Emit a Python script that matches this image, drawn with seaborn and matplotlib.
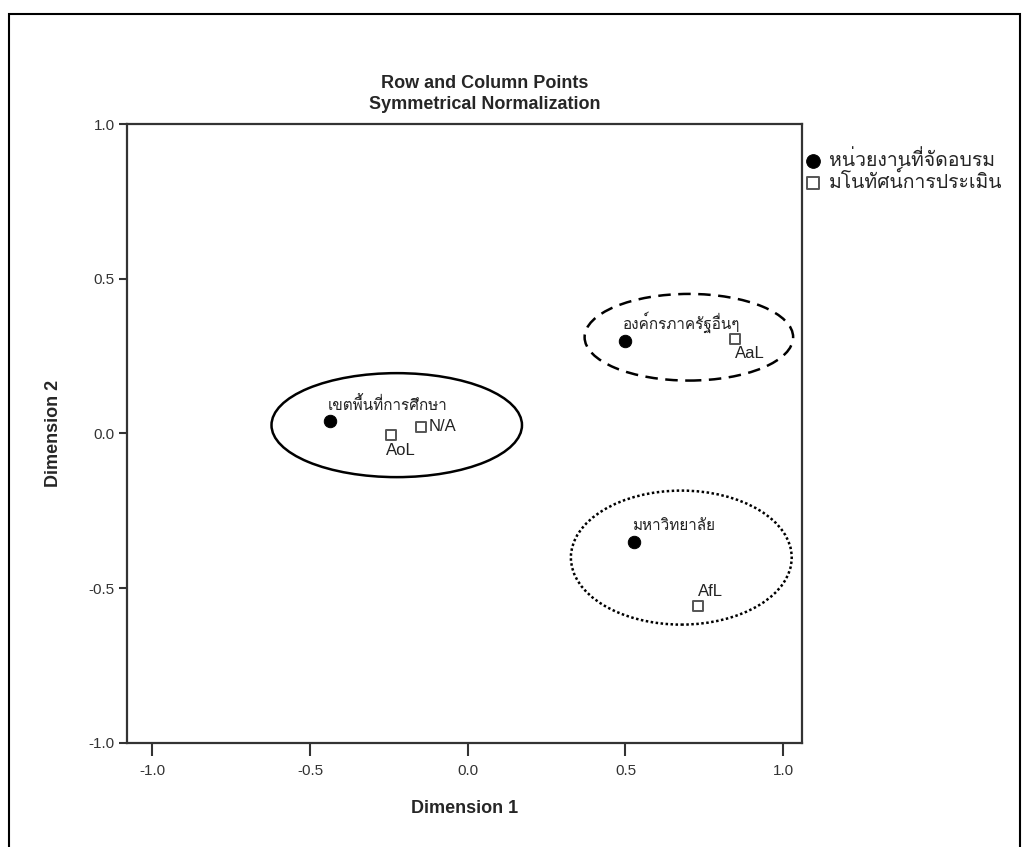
import matplotlib
matplotlib.use("Agg")
import matplotlib.pyplot as plt
import seaborn as sns
import pandas as pd
from matplotlib import font_manager
from matplotlib.ft2font import FT2Font
from matplotlib.patches import Ellipse, Rectangle

# dados
row_labels = ["เขตพื้นที่การศึกษา", "องค์กรภาครัฐอื่นๆ", "มหาวิทยาลัย"]
row_dim1 = [-0.437, 0.497, 0.528]
row_dim2 = [0.040, 0.300, -0.352]

col_labels = ["AoL", "N/A", "AaL", "AfL"]
col_dim1 = [-0.244, -0.149, 0.847, 0.729]
col_dim2 = [-0.005, 0.022, 0.305, -0.557]

legend_labels = ["หน่วยงานที่จัดอบรม", "มโนทัศน์การประเมิน"]
ticks = [-1.0, -0.5, 0.0, 0.5, 1.0]

# grupos desenhados a mao (centro x, centro y, largura, altura, estilo)
groups = [(-0.225, 0.027, 0.794, 0.336, "solid"),
          (0.701, 0.311, 0.661, 0.280, (0, (5, 3))),
          (0.677, -0.401, 0.700, 0.433, (0, (1, 1)))]

# posicao dos rotulos (pixels, alinhamento, tamanho)
offsets = {"เขตพื้นที่การศึกษา": (-2, 8, "left", "bottom", 11),
           "องค์กรภาครัฐอื่นๆ": (-2, 8, "left", "bottom", 11),
           "มหาวิทยาลัย": (-2, 9, "left", "bottom", 11),
           "AoL": (-5, -8, "left", "top", 12),
           "N/A": (8, 0, "left", "center", 12),
           "AaL": (0, -7, "left", "top", 12),
           "AfL": (0, 7, "left", "bottom", 12)}

df_row = pd.DataFrame({"d1": row_dim1, "d2": row_dim2, "lab": row_labels})
df_col = pd.DataFrame({"d1": col_dim1, "d2": col_dim2, "lab": col_labels})

sns.set_style("white")

# procurar uma fonte com glifos tailandeses
thai = []
for f in font_manager.fontManager.ttflist:
    try:
        if 0x0E01 in FT2Font(f.fname).get_charmap() and f.name not in thai:
            thai.append(f.name)
    except Exception:
        pass
plt.rcParams["font.family"] = ["Liberation Sans"] + thai + ["DejaVu Sans"]

fig = plt.figure(figsize=(10.26, 8.47), dpi=100)
ax = fig.add_axes([0.1238, 0.1228, 0.658, 0.7308])

for cx, cy, w, h, ls in groups:
    ax.add_patch(Ellipse((cx, cy), w, h, fill=False, ec="black", lw=1.8, ls=ls))

sns.scatterplot(data=df_row, x="d1", y="d2", ax=ax, marker="o", s=80,
                color="black", edgecolor="black", label=legend_labels[0], zorder=3)
sns.scatterplot(data=df_col, x="d1", y="d2", ax=ax, marker="s", s=60,
                facecolor="white", edgecolor="#555555", linewidth=1.4,
                label=legend_labels[1], zorder=3)

for df in (df_row, df_col):
    for _, r in df.iterrows():
        dx, dy, ha, va, fs = offsets[r["lab"]]
        ax.annotate(r["lab"], (r["d1"], r["d2"]), xytext=(dx, dy),
                    textcoords="offset pixels", ha=ha, va=va, fontsize=fs,
                    color="#222222")

ax.set_xlim(-1.08, 1.06)
ax.set_ylim(-1.0, 1.0)
ax.set_xticks(ticks)
ax.set_yticks(ticks)
ax.set_xticklabels([f"{t:.1f}" for t in ticks])
ax.set_yticklabels([f"{t:.1f}" for t in ticks])
ax.tick_params(axis="x", direction="out", length=9, width=1.5, pad=6,
               labelsize=11, colors="#333333", bottom=True)
ax.tick_params(axis="y", direction="out", length=6, width=1.5, pad=3,
               labelsize=11, colors="#333333", left=True)
for sp in ax.spines.values():
    sp.set_color("#333333")
    sp.set_linewidth(1.6)

ax.set_xlabel("Dimension 1", fontsize=13, fontweight="bold", labelpad=16)
ax.set_ylabel("Dimension 2", fontsize=13, fontweight="bold", labelpad=19)

fig.text(0.472, 0.902, "Row and Column Points", ha="center", va="center",
         fontsize=13, fontweight="bold")
fig.text(0.472, 0.877, "Symmetrical Normalization", ha="center", va="center",
         fontsize=13, fontweight="bold")

ax.legend(loc="upper left", bbox_to_anchor=(0.775, 0.832),
          bbox_transform=fig.transFigure, frameon=False, fontsize=14,
          handletextpad=0.35, borderaxespad=0, labelspacing=0.05,
          handlelength=1.0, markerscale=1.1)

# moldura externa
fig.patches.append(Rectangle((0.0088, -0.01), 0.985, 0.9935, transform=fig.transFigure,
                             fill=False, ec="black", lw=1.5))

plt.savefig("out.png", dpi=100)
